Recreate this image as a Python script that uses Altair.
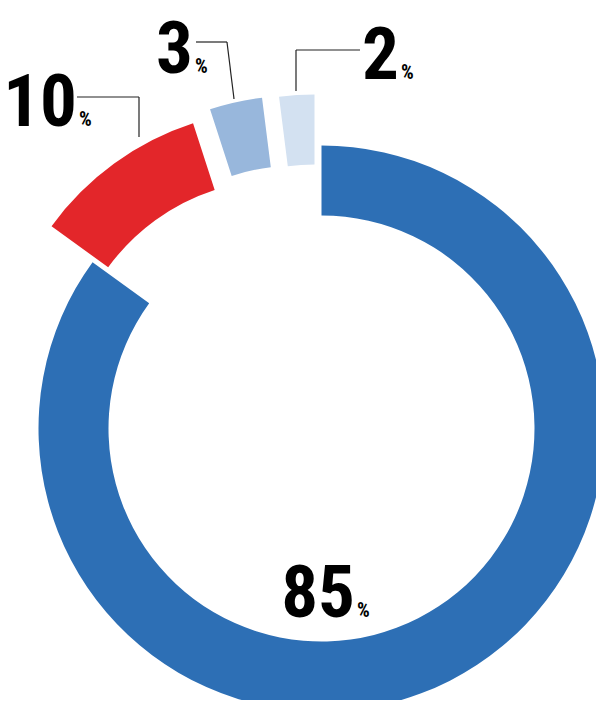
import altair as alt
import pandas as pd

# ---- data ----
labels = ["85", "10", "3", "2"]
values = [85, 10, 3, 2]
colors = ["#2d6fb5", "#e3262a", "#98b7dc", "#d3e1f1"]

df = pd.DataFrame({"label": labels, "value": values, "order": list(range(len(labels)))})

# ---- layout / style constants ----
W, H = 588, 692
CX, CY = 313.5, 420.5          # donut centre (pixels)
R_IN, R_OUT = 213, 283
explode = {"85": (0, 0), "10": (-41, -36), "3": (-24, -50), "2": (-7, -51)}
num_pos = {"10": (69, 118), "3": (185, 65), "2": (391, 71), "85": (347, 609)}
FONT = "Roboto Condensed, DejaVu Sans Condensed, sans-serif"
leaders = {
    "10": [((69, 89), (131, 89)), ((131, 89), (131, 129))],
    "3": [((188, 34), (219, 34)), ((219, 34), (226, 91))],
    "2": [((288, 42), (352, 42)), ((288, 42), (288, 83))],
}

color_scale = alt.Scale(domain=labels, range=colors)

base = (
    alt.Chart(df)
    .transform_window(end="sum(value)", sort=[alt.SortField("order")], frame=[None, 0])
    .transform_calculate(start="datum.end - datum.value")
)

layers = []
for lab in labels:
    dx, dy = explode[lab]
    layers.append(
        base.transform_filter(alt.datum.label == lab)
        .mark_arc(innerRadius=R_IN, outerRadius=R_OUT, xOffset=dx, yOffset=dy)
        .encode(
            theta=alt.Theta("start:Q", scale=alt.Scale(domain=[0, 100])),
            theta2="end:Q",
            color=alt.Color("label:N", scale=color_scale, legend=None),
            x=alt.value(CX),
            y=alt.value(CY),
        )
    )

for lab, segs in leaders.items():
    for (x1, y1), (x2, y2) in segs:
        layers.append(
            alt.Chart(df)
            .transform_filter(alt.datum.label == lab)
            .mark_rule(color="#222222", strokeWidth=1.2)
            .encode(x=alt.value(x1), y=alt.value(y1), x2=alt.value(x2), y2=alt.value(y2))
        )

for lab in labels:
    px, py = num_pos[lab]
    layers.append(
        alt.Chart(df)
        .transform_filter(alt.datum.label == lab)
        .mark_text(font=FONT, fontSize=73, fontWeight="bold", align="right",
                   baseline="alphabetic", color="#000000")
        .encode(text="label:N", x=alt.value(px), y=alt.value(py))
    )
    layers.append(
        alt.Chart(df)
        .transform_filter(alt.datum.label == lab)
        .mark_text(font=FONT, fontSize=20, fontWeight="bold", align="left",
                   baseline="alphabetic", color="#000000", text="%")
        .encode(x=alt.value(px + 2), y=alt.value(py))
    )

chart = (
    alt.layer(*layers)
    .properties(width=W, height=H, padding=0, autosize="none")
    .configure_view(stroke=None)
)

chart.save("out.html", embed_options={"renderer": "svg", "actions": False})
